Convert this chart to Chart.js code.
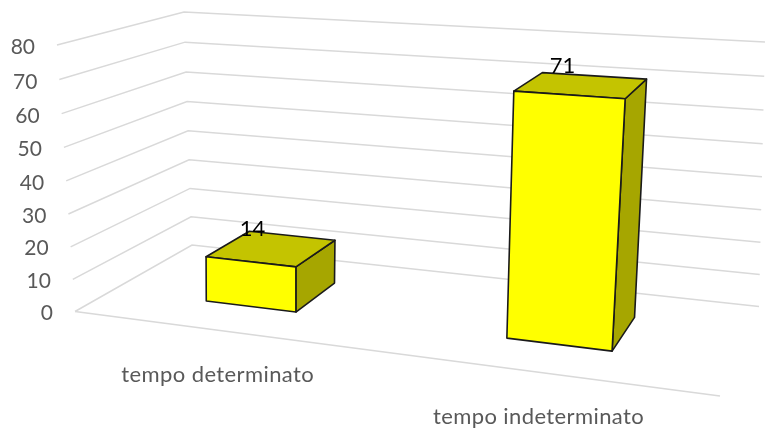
<!DOCTYPE html>
<html><head><meta charset="utf-8">
<style>html,body{margin:0;padding:0;background:#fff}canvas{display:block}</style>
<script src="https://cdn.jsdelivr.net/npm/chart.js@4/dist/chart.umd.js"></script>
</head><body><canvas id="c" width="765" height="432"></canvas>
<script>
const categories = ["tempo determinato", "tempo indeterminato"];
const values = [14, 71];
const axisMin = 0, axisMax = 80, axisStep = 10;

// View of the 3D box: screen corners of the floor and of the top plane
const FLOOR = [[75,311.5],[720,396],[759,306.5],[192,245]];
const TOP   = [[57,45],[735,90],[765,42],[184,12]];
const RISE = 1.04, DEPTH0 = 0.30, DEPTH1 = 0.70, BAR_LEAN = 13;
const FONT = "Lato, 'Open Sans', sans-serif";

function homography(q){
  const [A,B,D,C]=q;
  const dx1=[B[0]-D[0],B[1]-D[1]],dx2=[C[0]-D[0],C[1]-D[1]];
  const s=[A[0]-B[0]+D[0]-C[0],A[1]-B[1]+D[1]-C[1]];
  const det=dx1[0]*dx2[1]-dx1[1]*dx2[0];
  const g=(s[0]*dx2[1]-s[1]*dx2[0])/det,h=(dx1[0]*s[1]-dx1[1]*s[0])/det;
  const a=[B[0]-A[0]+g*B[0],B[1]-A[1]+g*B[1]],b=[C[0]-A[0]+h*C[0],C[1]-A[1]+h*C[1]];
  return (u,w)=>{const d=g*u+h*w+1;return [(a[0]*u+b[0]*w+A[0])/d,(a[1]*u+b[1]*w+A[1])/d];};
}
const floorH=homography(FLOOR),topH=homography(TOP);
function proj(u,w,t,lean){
  const k=t/(t+(1-t)*RISE),p=floorH(u,w),q=topH(u,w);
  return [p[0]+(q[0]+(lean||0)-p[0])*k,p[1]+(q[1]-p[1])*k];
}
function poly(ctx,pts,fill){
  ctx.beginPath();pts.forEach((p,i)=>i?ctx.lineTo(p[0],p[1]):ctx.moveTo(p[0],p[1]));ctx.closePath();
  ctx.fillStyle=fill;ctx.fill();ctx.stroke();
}
class Box3D extends Chart.BarElement{
  static id='box3d';
  draw(ctx){
    const {x,y,base,width}=this.getProps(['x','y','base','width']);
    const W=ctx.canvas.width,H=ctx.canvas.height;
    const u0=(x-width/2)/W,u1=(x+width/2)/W,t=(H-y)/H,b=(H-base)/H;
    const P=(u,w,v)=>proj(u,w,v,BAR_LEAN);
    ctx.save();ctx.strokeStyle='#1a1a1a';ctx.lineWidth=1.6;ctx.lineJoin='round';
    poly(ctx,[P(u1,DEPTH0,b),P(u1,DEPTH1,b),P(u1,DEPTH1,t),P(u1,DEPTH0,t)],'#A6A600');
    poly(ctx,[P(u0,DEPTH0,t),P(u1,DEPTH0,t),P(u1,DEPTH1,t),P(u0,DEPTH1,t)],'#C4C400');
    poly(ctx,[P(u0,DEPTH0,b),P(u1,DEPTH0,b),P(u1,DEPTH0,t),P(u0,DEPTH0,t)],this.options.backgroundColor);
    ctx.restore();
  }
}
class Box3DController extends Chart.BarController{
  static id='box3d';
  static defaults={...Chart.BarController.defaults,dataElementType:'box3d'};
}
Chart.register(Box3D,Box3DController);

const walls={id:'walls',beforeDatasetsDraw(chart){
  const {ctx,scales:{y}}=chart,H=chart.height;
  ctx.save();ctx.strokeStyle='#D9D9D9';ctx.lineWidth=1.5;ctx.lineJoin='miter';
  ctx.fillStyle='#595959';ctx.font='21px '+FONT;ctx.textAlign='right';ctx.textBaseline='middle';
  y.ticks.forEach(tk=>{
    const t=(H-y.getPixelForValue(tk.value))/H;
    const a=proj(0,0,t),b=proj(0,1,t),c=proj(1,1,t);
    ctx.beginPath();ctx.moveTo(...a);ctx.lineTo(...b);ctx.lineTo(...c);ctx.stroke();
    ctx.fillText(String(tk.value),a[0]-22,a[1]+1.5+t);
  });
  const a=proj(0,0,0),b=proj(1,0,0);
  ctx.beginPath();ctx.moveTo(...a);ctx.lineTo(...b);ctx.stroke();
  ctx.restore();
}};
const labels={id:'labels3d',afterDatasetsDraw(chart){
  const {ctx}=chart,W=chart.width,H=chart.height,meta=chart.getDatasetMeta(0);
  ctx.save();ctx.textAlign='center';ctx.textBaseline='middle';
  meta.data.forEach((el,i)=>{
    const u=el.x/W,t=(H-el.y)/H;
    const f=proj(u,0,0);
    ctx.font='22px '+FONT;ctx.fillStyle='#595959';ctx.letterSpacing='0.4px';
    ctx.fillText(categories[i],f[0]+1,f[1]+44.5);
    ctx.letterSpacing='0px';
    const p=proj(u,0.5,t,BAR_LEAN);
    ctx.font='22px '+FONT;ctx.fillStyle='#000000';
    ctx.fillText(String(values[i]),p[0]-19,p[1]-19);
  });
  ctx.restore();
}};
new Chart(document.getElementById('c'),{
  type:'box3d',
  data:{labels:categories,datasets:[{data:values,backgroundColor:'#FFFF00',barPercentage:0.315,categoryPercentage:1}]},
  options:{responsive:false,animation:false,layout:{padding:0},
    plugins:{legend:{display:false},tooltip:{enabled:false}},
    scales:{
      x:{type:'category',display:false,offset:true},
      y:{type:'linear',display:false,min:axisMin,max:axisMax,ticks:{stepSize:axisStep}}
    }},
  plugins:[walls,labels]
});
</script></body></html>
